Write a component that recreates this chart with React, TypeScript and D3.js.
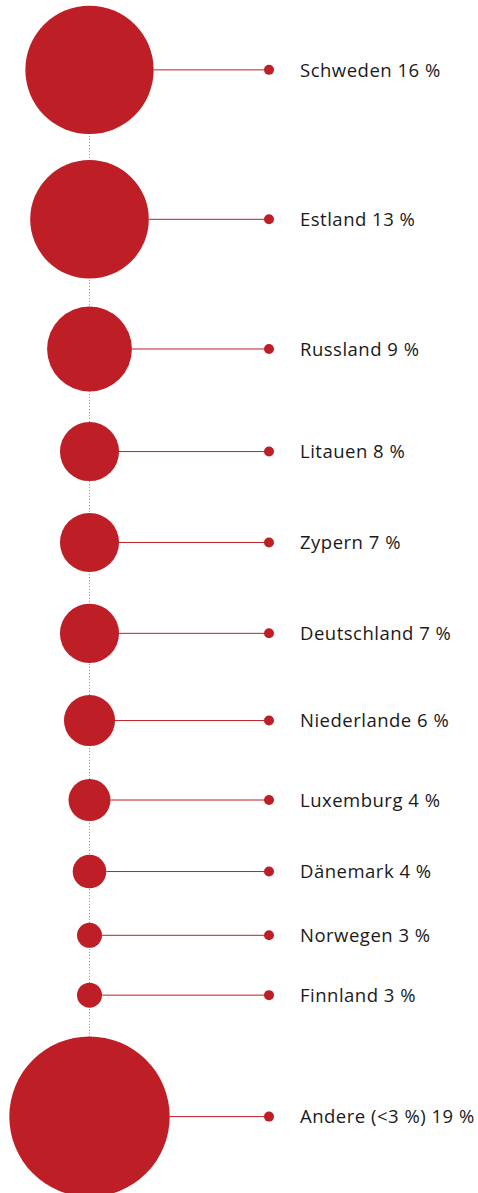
import React from 'react';
import * as d3 from 'd3';

const countries = ['Schweden', 'Estland', 'Russland', 'Litauen', 'Zypern', 'Deutschland', 'Niederlande', 'Luxemburg', 'Dänemark', 'Norwegen', 'Finnland', 'Andere (<3 %)'];
const shares = [16, 13, 9, 8, 7, 7, 6, 4, 4, 3, 3, 19];
// bubble sizes (share units)
const bubbleValues = [15.2, 14.05, 10.05, 7.0, 7.0, 7.0, 6.05, 4.98, 3.98, 2.96, 2.96, 19];

export default function App() {
  const W = 478;
  const H = 1193;
  const cx = 89.5;
  const top = 5.7;
  const red = '#be1f27';

  const rScale = d3.scaleLinear().domain([0, 19]).range([0, 80.2]);
  const radii = bubbleValues.map((v) => rScale(v));
  const ys: number[] = [];
  radii.forEach((rr, i) => {
    if (i === 0) ys.push(top + rr);
    else ys.push(ys[i - 1] + 0.91 * (radii[i - 1] + rr) + 37.1);
  });

  const xLineEnd = 269;
  const xText = 300;

  return (
    <svg width={W} height={H} style={{ position: 'absolute', left: 0, top: 0 }}>
      <rect width={W} height={H} fill="#fff" />
      <line x1={cx} x2={cx} y1={ys[0]} y2={ys[ys.length - 1]} stroke="#8a8a8a" strokeWidth={1} strokeDasharray="1 2" />
      {countries.map((c, i) => (
        <g key={c}>
          <line x1={cx + radii[i]} x2={xLineEnd} y1={ys[i]} y2={ys[i]} stroke={red} strokeWidth={1} />
          <circle cx={xLineEnd} cy={ys[i]} r={5} fill={red} />
          <circle cx={cx} cy={ys[i]} r={radii[i]} fill={red} />
          <text x={xText} y={ys[i]} dy="0.36em" fontFamily="'Open Sans', sans-serif" fontSize={18.5} letterSpacing={0.5} fill="#1a1a1a">
            {`${c} ${shares[i]} %`}
          </text>
        </g>
      ))}
    </svg>
  );
}
